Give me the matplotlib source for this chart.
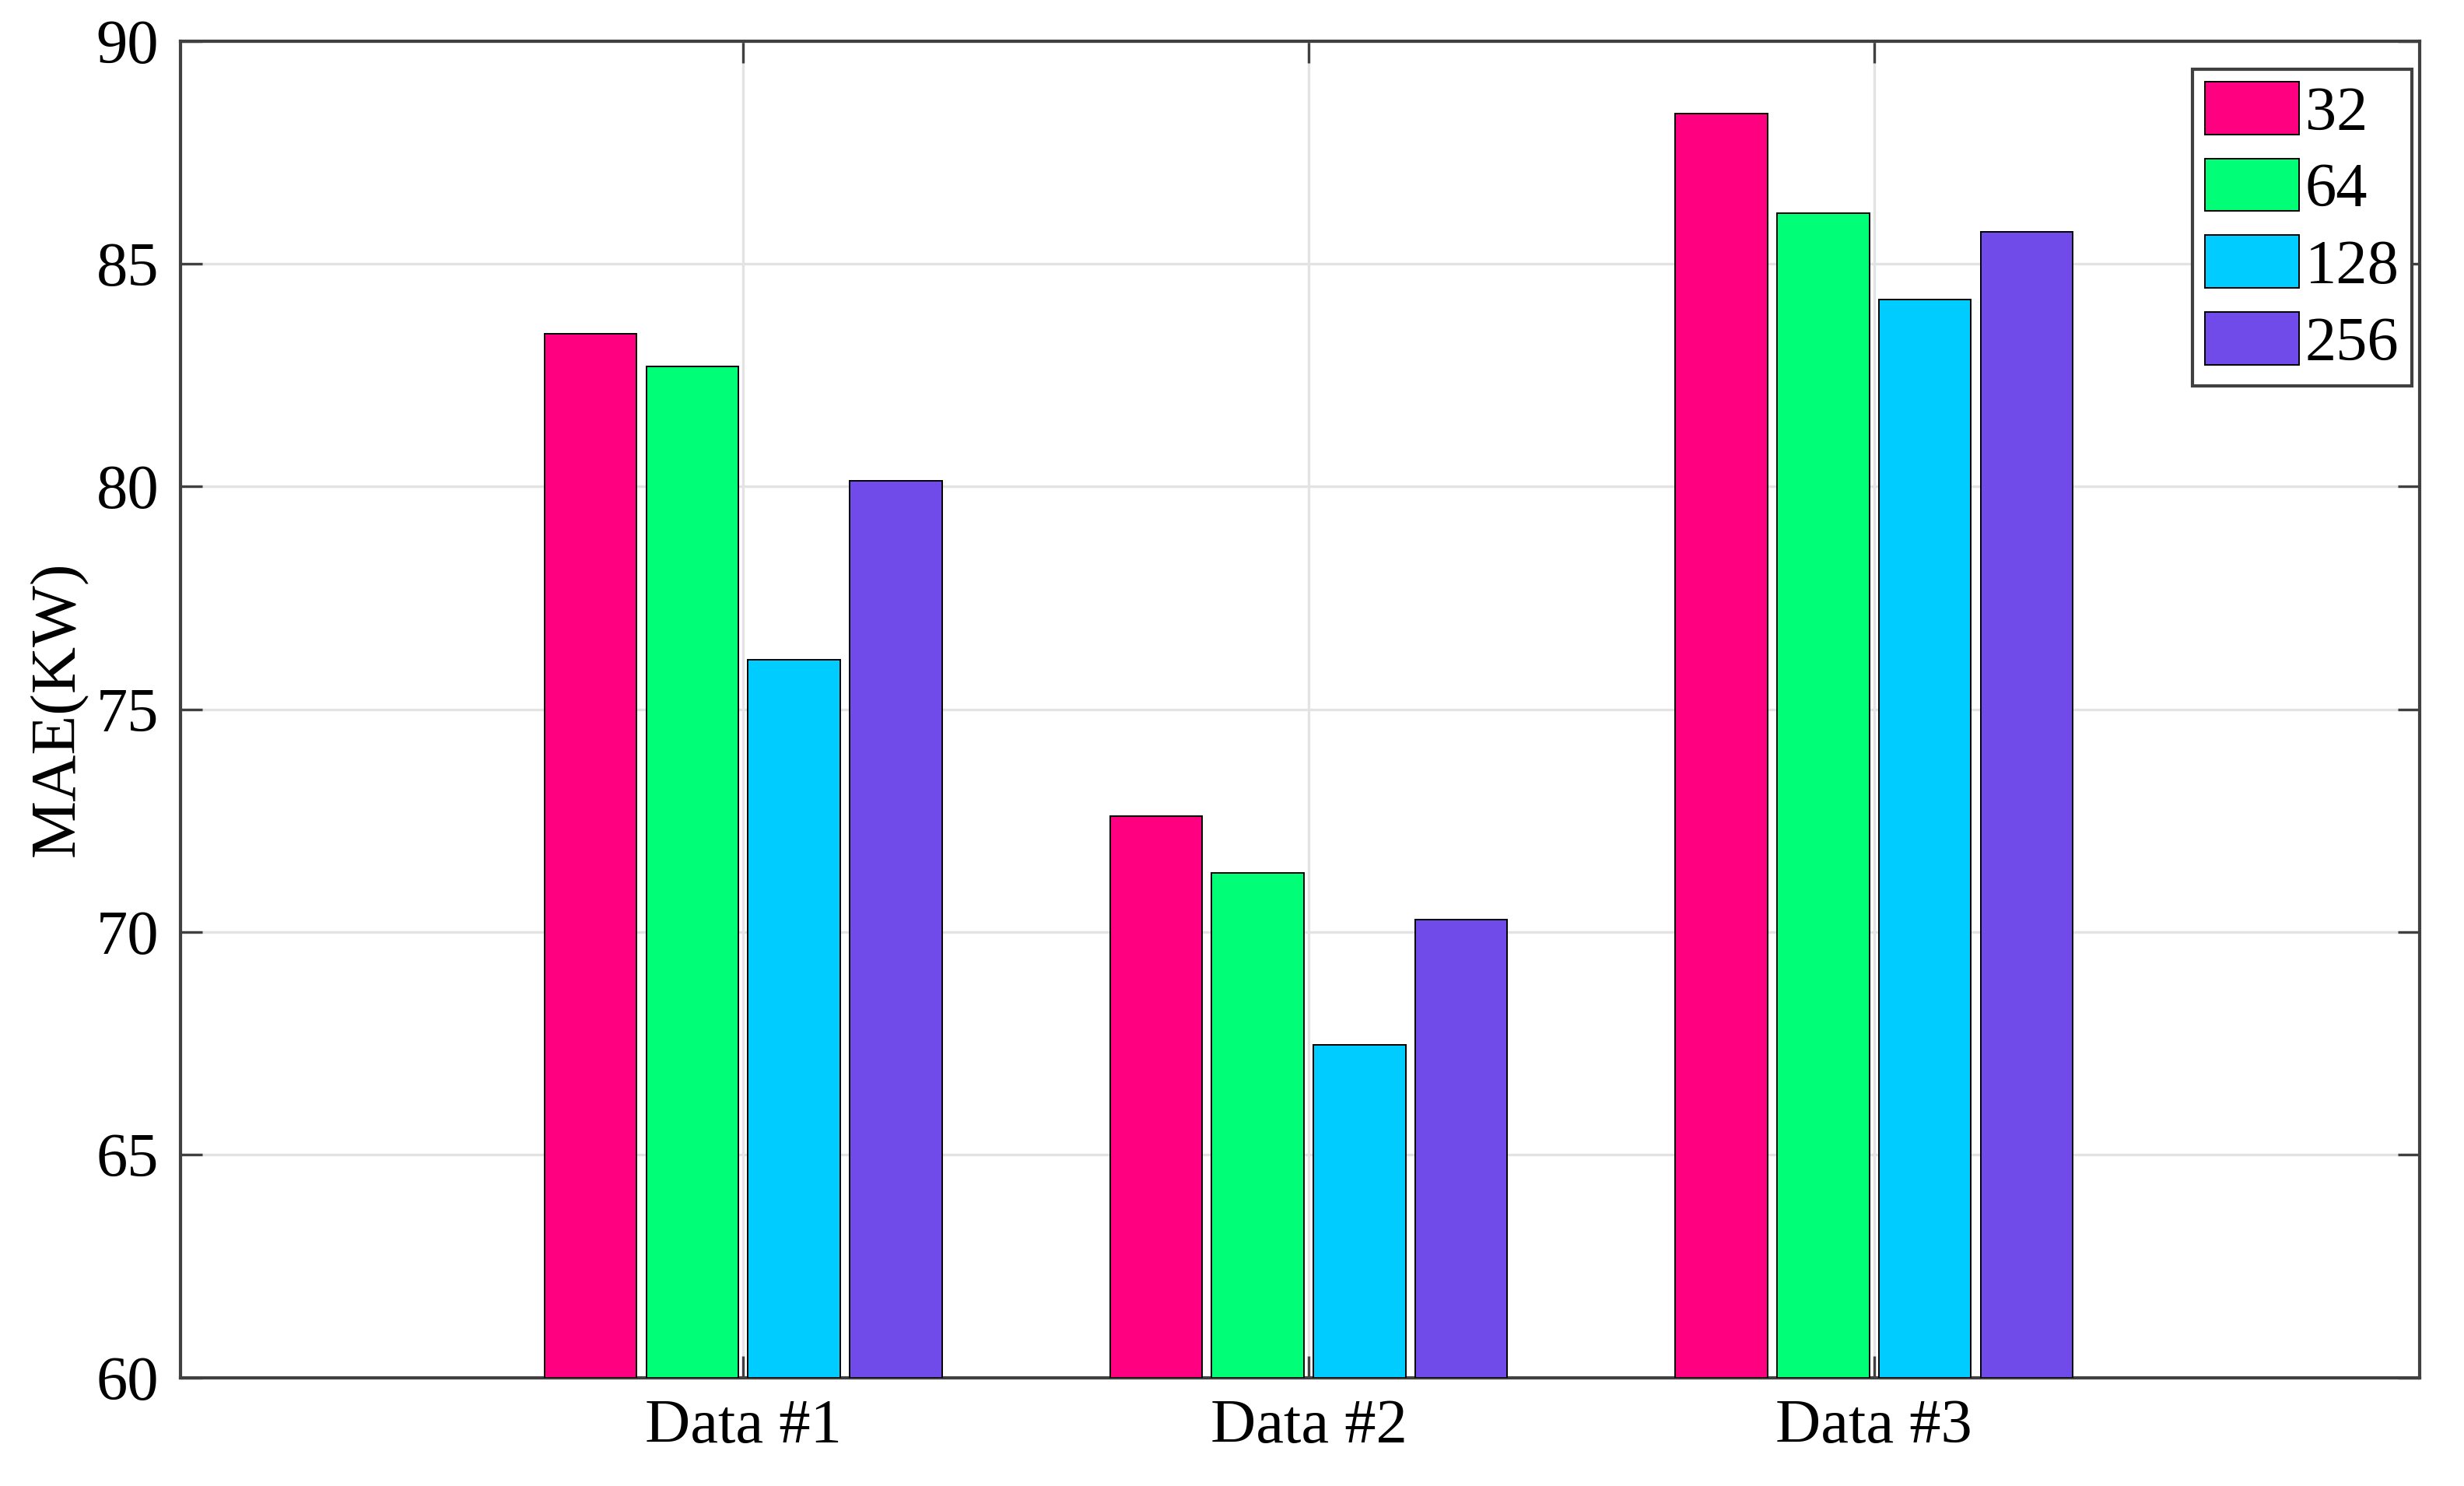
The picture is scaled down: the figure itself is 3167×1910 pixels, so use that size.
import numpy as np
import matplotlib
matplotlib.use("Agg")
import matplotlib.pyplot as plt

# MAE values
categories = ["Data #1", "Data #2", "Data #3"]
series_labels = ["32", "64", "128", "256"]
mae_32 = [83.43, 72.60, 88.36]
mae_64 = [82.70, 71.33, 86.13]
mae_128 = [76.11, 67.47, 84.20]
mae_256 = [80.13, 70.28, 85.72]
colors = ["#FF0080", "#00FF77", "#00CCFF", "#704BE9"]

plt.rcParams['font.family'] = ['Liberation Serif', 'DejaVu Serif']

fig = plt.figure(figsize=(15.835, 9.55), dpi=200)
ax = fig.add_axes([0.0733, 0.073, 0.9087, 0.8995])

x = np.arange(1, len(categories) + 1)
width = 0.163
offsets = [-0.27, -0.09, 0.09, 0.27]
for vals, off, col, lab in zip([mae_32, mae_64, mae_128, mae_256], offsets, colors, series_labels):
    ax.bar(x + off, np.array(vals) - 60, width, bottom=60, color=col,
           edgecolor='black', linewidth=0.7, label=lab, zorder=3)

ax.set_xlim(0.005, 3.965)
ax.set_ylim(60, 90)
ax.set_xticks(x)
ax.set_xticklabels(categories)
ax.set_yticks(np.arange(60, 91, 5))
ax.tick_params(direction='in', length=10, width=1.2, labelsize=29, color='#404040',
               top=True, right=True, pad=10)
ax.grid(True, color='#e3e3e3', linewidth=1.2, zorder=0)
ax.set_axisbelow(True)
for s in ax.spines.values():
    s.set_color('#404040')
    s.set_linewidth(1.5)
ax.set_ylabel('MAE(KW)', fontsize=30, labelpad=4)

leg = ax.legend(loc='upper right', bbox_to_anchor=(0.9965, 0.979), borderaxespad=0,
                fontsize=29, fancybox=False, framealpha=1,
                edgecolor='#404040', handlelength=1.5, handleheight=0.92,
                handletextpad=0.1, labelspacing=0.25, borderpad=0.2)
leg.get_frame().set_linewidth(1.5)

fig.savefig('out.png', dpi=200)
